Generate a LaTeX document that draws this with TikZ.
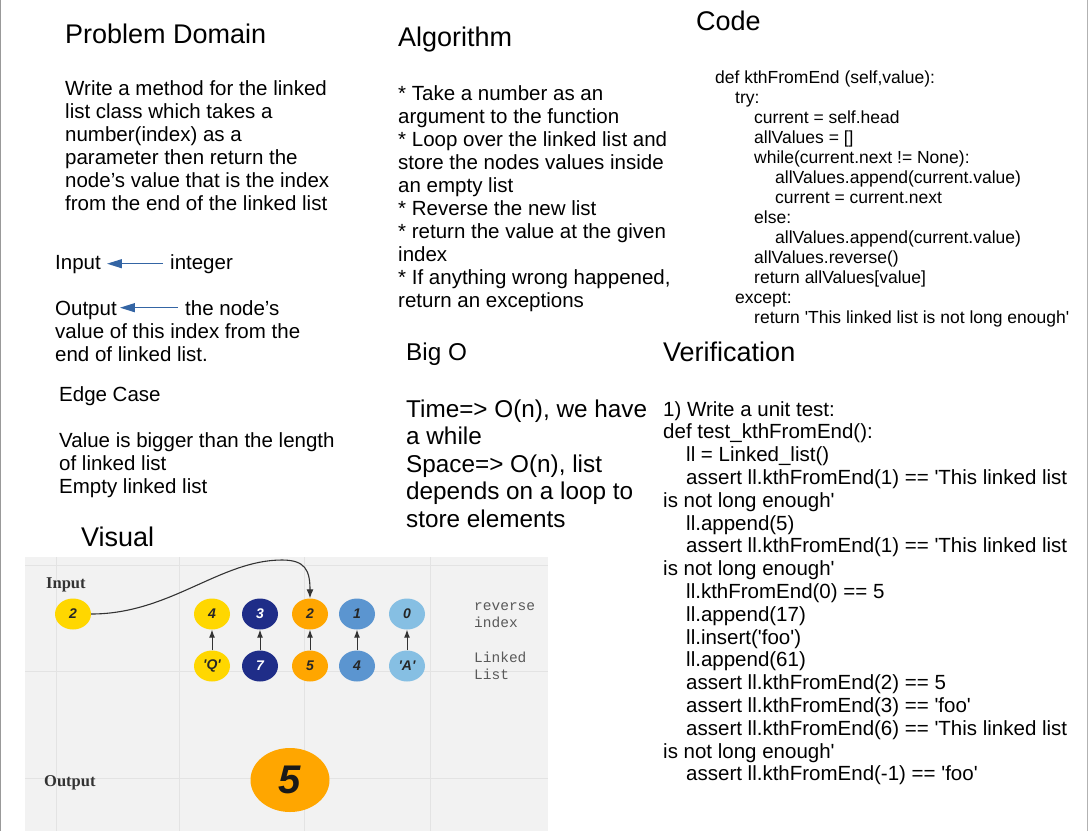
\documentclass[tikz,border=0pt]{standalone}
\usepackage{fontspec}
\setmainfont{Liberation Sans}[Ligatures=TeXOff]
\newfontfamily\visserif{Liberation Serif}
\newfontfamily\vismono{Liberation Mono}
\usetikzlibrary{shapes.geometric,arrows.meta}
\definecolor{bluearr}{HTML}{3465A4}
\definecolor{visbg}{HTML}{F2F2F2}
\definecolor{visgrid}{HTML}{E3E3E3}
\definecolor{cyel}{HTML}{FFD700}
\definecolor{cnavy}{HTML}{1F2D88}
\definecolor{corange}{HTML}{FFA600}
\definecolor{cmid}{HTML}{5B95D0}
\definecolor{clight}{HTML}{86BFE3}
\tikzset{
  txt/.style={anchor=base west,inner sep=0pt,font=\fontsize{20.5}{23}\selectfont},
  ttl/.style={anchor=base west,inner sep=0pt,font=\fontsize{27}{30}\selectfont},
  codetxt/.style={anchor=base west,inner sep=0pt,font=\fontsize{17.5}{20}\selectfont},
  bigo/.style={anchor=base west,inner sep=0pt,font=\fontsize{24.3}{28}\selectfont},
  bluearrow/.style={draw=bluearr,line width=1.3pt,-{Triangle[length=15pt,width=9pt]}},
  dot/.style={ellipse,minimum width=36pt,minimum height=31pt,inner sep=0pt,
    font=\bfseries\itshape\fontsize{14}{14}\selectfont,text=black!85},
  visarrow/.style={draw=black!80,line width=1pt,-{Latex[length=8pt,width=6pt]}},
  vislbl/.style={anchor=base west,inner sep=0pt,font=\visserif\bfseries\fontsize{16.5}{18}\selectfont,text=black!80},
  vismn/.style={anchor=base west,inner sep=0pt,font=\vismono\fontsize{14.5}{16}\selectfont,text=black!65},
}
\begin{document}
\begin{tikzpicture}[x=1pt,y=-1pt]
\useasboundingbox (0,0) rectangle (1089,831);
\draw[gray!80,line width=1pt] (0.5,0) -- (0.5,831);
\draw[gray!60,line width=1pt] (1087.5,0) -- (1087.5,831);

% ---------- Problem Domain ----------
\node[ttl] (pdt) at (65,43) {Problem Domain};
\node[txt] (pd1) at (65,95) {Write a method for the linked};
\node[txt] (pd2) at (65,118) {list class which takes a};
\node[txt] (pd3) at (65,141) {number(index) as a};
\node[txt] (pd4) at (65,164) {parameter then return the};
\node[txt] (pd5) at (65,187) {node’s value that is the index};
\node[txt] (pd6) at (65,210) {from the end of the linked list};

\node[txt] (inl) at (55,269) {Input};
\node[txt] (intg) at (170,269) {integer};
\draw[bluearrow] (intg.west) ++(-7,0) -- ([xshift=6pt]inl.east |- intg.west);
\node[txt] (outl) at (55,315) {Output};
\node[txt] (outn) at (185,315) {the node’s};
\draw[bluearrow] (outn.west) ++(-7,0) -- ([xshift=3pt]outl.east |- outn.west);
\node[txt] (out2) at (55,338) {value of this index from the};
\node[txt] (out3) at (55,361) {end of linked list.};

\node[txt] (ec) at (59,401) {Edge Case};
\node[txt] (ec1) at (59,447) {Value is bigger than the length};
\node[txt] (ec2) at (59,470) {of linked list};
\node[txt] (ec3) at (59,493) {Empty linked list};

\node[ttl] (vist) at (81,546) {Visual};

% ---------- Algorithm ----------
\node[ttl] (algt) at (398,46) {Algorithm};
\node[txt] (a1) at (398,100) {* Take a number as an};
\node[txt] (a2) at (398,123) {argument to the function};
\node[txt] (a3) at (398,146) {* Loop over the linked list and};
\node[txt] (a4) at (398,169) {store the nodes values inside};
\node[txt] (a5) at (398,192) {an empty list};
\node[txt] (a6) at (398,215) {* Reverse the new list};
\node[txt] (a7) at (398,238) {* return the value at the given};
\node[txt] (a8) at (398,261) {index};
\node[txt] (a9) at (398,284) {* If anything wrong happened,};
\node[txt] (a10) at (398,307) {return an exceptions};

% ---------- Code ----------
\node[ttl] (codet) at (696,30) {Code};
\node[codetxt] (c1) at (715,83) {def kthFromEnd (self,value):};
\node[codetxt] (c2) at (735,103) {try:};
\node[codetxt] (c3) at (754,123) {current = self.head};
\node[codetxt] (c4) at (754,143) {allValues = []};
\node[codetxt] (c5) at (754,163) {while(current.next != None):};
\node[codetxt] (c6) at (775,183) {allValues.append(current.value)};
\node[codetxt] (c7) at (775,203) {current = current.next};
\node[codetxt] (c8) at (754,223) {else:};
\node[codetxt] (c9) at (775,243) {allValues.append(current.value)};
\node[codetxt] (c10) at (754,263) {allValues.reverse()};
\node[codetxt] (c11) at (754,283) {return allValues[value]};
\node[codetxt] (c12) at (735,303) {except:};
\node[codetxt] (c13) at (754,323) {return 'This linked list is not long enough'};

% ---------- Big O ----------
\node[bigo] (bot) at (406,360) {Big O};
\node[bigo] (b1) at (406,417) {Time=> O(n), we have};
\node[bigo] (b2) at (406,444.5) {a while};
\node[bigo] (b3) at (406,472) {Space=> O(n), list};
\node[bigo] (b4) at (406,499.5) {depends on a loop to};
\node[bigo] (b5) at (406,527) {store elements};

% ---------- Verification ----------
\node[ttl] (vt) at (663,361) {Verification};
\node[txt] (v1) at (663,416) {1) Write a unit test:};
\node[txt] (v2) at (663,438.8) {def test\_kthFromEnd():};
\node[txt] (v3) at (686,461.6) {ll = Linked\_list()};
\node[txt] (v4) at (686,484.4) {assert ll.kthFromEnd(1) == 'This linked list};
\node[txt] (v5) at (663,507.2) {is not long enough'};
\node[txt] (v6) at (686,530) {ll.append(5)};
\node[txt] (v7) at (686,552.8) {assert ll.kthFromEnd(1) == 'This linked list};
\node[txt] (v8) at (663,575.6) {is not long enough'};
\node[txt] (v9) at (686,598.4) {ll.kthFromEnd(0) == 5};
\node[txt] (v10) at (686,621.2) {ll.append(17)};
\node[txt] (v11) at (686,644) {ll.insert('foo')};
\node[txt] (v12) at (686,666.8) {ll.append(61)};
\node[txt] (v13) at (686,689.6) {assert ll.kthFromEnd(2) == 5};
\node[txt] (v14) at (686,712.4) {assert ll.kthFromEnd(3) == 'foo'};
\node[txt] (v15) at (686,735.2) {assert ll.kthFromEnd(6) == 'This linked list};
\node[txt] (v16) at (663,758) {is not long enough'};
\node[txt] (v17) at (686,780.8) {assert ll.kthFromEnd(-1) == 'foo'};

% ---------- Visual picture ----------
\fill[visbg] (25,557) rectangle (548,831);
\foreach \gx in {56,179,304,430} \draw[visgrid,line width=1pt] (\gx,557) -- (\gx,831);
\foreach \gy in {565,671,778} \draw[visgrid,line width=1pt] (25,\gy) -- (548,\gy);

\node[vislbl] (vin) at (46,588) {Input};
\node[vislbl] (vout) at (44,786) {Output};
\node[vismn] (rv1) at (474,610) {reverse};
\node[vismn] (rv2) at (474,627) {index};
\node[vismn] (ll1) at (474,662) {Linked};
\node[vismn] (ll2) at (474,679) {List};

\node[dot,fill=cyel] (in2) at (73,614) {2};
\node[dot,fill=cyel] (t1) at (212,614) {4};
\node[dot,fill=cnavy,text=white] (t2) at (260,614) {3};
\node[dot,fill=corange] (t3) at (310,614) {2};
\node[dot,fill=cmid] (t4) at (357,614) {1};
\node[dot,fill=clight] (t5) at (407,614) {0};
\node[dot,fill=cyel] (d1) at (212,666) {'Q'};
\node[dot,fill=cnavy,text=white] (d2) at (260,666) {7};
\node[dot,fill=corange] (d3) at (310,666) {5};
\node[dot,fill=cmid] (d4) at (357,666) {4};
\node[dot,fill=clight] (d5) at (407,666) {'A'};
\node[ellipse,fill=corange,minimum width=79pt,minimum height=64pt,inner sep=0pt,
  font=\bfseries\itshape\fontsize{40}{40}\selectfont,text=black!90] (o5) at (290,780) {5};

\foreach \i in {1,...,5} \draw[visarrow] (d\i.north) -- (t\i.south);
\draw[draw=black!80,line width=1.1pt,-{Latex[length=9pt,width=7pt]}]
  (in2.east) .. controls (170,614) and (220,560) .. (282,560)
  .. controls (305,560) and (310,570) .. (t3.north);
\end{tikzpicture}
\end{document}
